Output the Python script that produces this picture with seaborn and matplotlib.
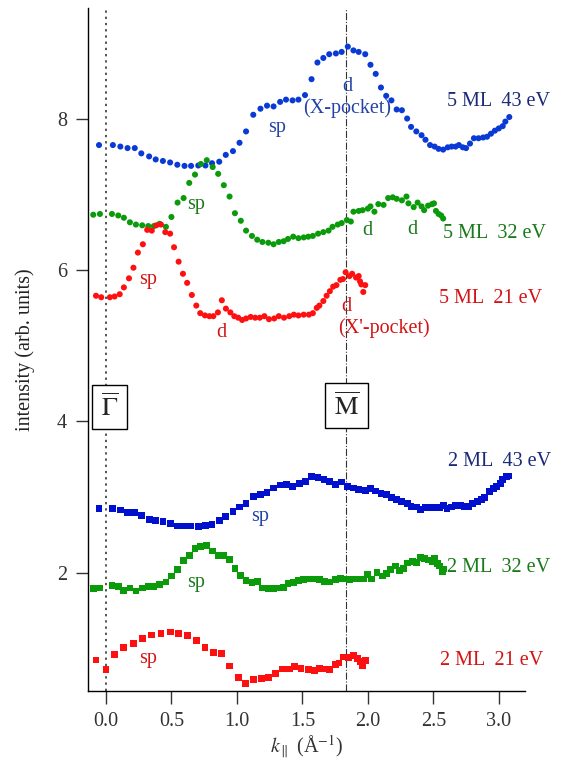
import matplotlib
matplotlib.use("Agg")
import matplotlib.pyplot as plt
import seaborn as sns
import pandas as pd

# ---- 5 ML film, circles ----
x_5ml_43 = [-0.053, 0.053, 0.11, 0.165, 0.22, 0.27, 0.33, 0.38, 0.435, 0.49,
            0.545, 0.60, 0.65, 0.705, 0.76, 0.81, 0.865, 0.915, 0.97, 1.02,
            1.07, 1.125, 1.18, 1.23, 1.28, 1.33, 1.375, 1.425, 1.47, 1.52,
            1.57, 1.615, 1.66, 1.705, 1.756, 1.80, 1.847, 1.89, 1.93, 1.98,
            2.02, 2.06, 2.10, 2.14, 2.18, 2.22, 2.26, 2.30, 2.33, 2.37,
            2.41, 2.44, 2.475, 2.51, 2.54, 2.575, 2.61, 2.64, 2.67, 2.695,
            2.725, 2.75, 2.78, 2.81, 2.845, 2.88, 2.91, 2.94, 2.97, 3.00,
            3.03, 3.05, 3.08]
y_5ml_43 = [7.65, 7.65, 7.63, 7.61, 7.61, 7.54, 7.50, 7.46, 7.44, 7.42,
            7.39, 7.375, 7.375, 7.38, 7.38, 7.41, 7.43, 7.52, 7.57, 7.68,
            7.83, 8.05, 8.13, 8.17, 8.16, 8.22, 8.25, 8.24, 8.25, 8.31,
            8.52, 8.74, 8.80, 8.85, 8.86, 8.88, 8.95, 8.90, 8.88, 8.85,
            8.71, 8.59, 8.41, 8.30, 8.24, 8.12, 8.11, 8.00, 7.89, 7.83,
            7.78, 7.72, 7.65, 7.63, 7.60, 7.59, 7.62, 7.63, 7.63, 7.65,
            7.62, 7.61, 7.67, 7.74, 7.74, 7.75, 7.76, 7.80, 7.84, 7.87,
            7.90, 7.96, 8.02]

x_5ml_32 = [-0.097, -0.046, 0.046, 0.094, 0.137, 0.183, 0.229, 0.277, 0.323, 0.366,
            0.41, 0.458, 0.50, 0.547, 0.593, 0.636, 0.68, 0.725, 0.77, 0.815,
            0.857, 0.90, 0.944, 0.985, 1.03, 1.07, 1.115, 1.155, 1.195, 1.24,
            1.28, 1.32, 1.357, 1.39, 1.43, 1.47, 1.51, 1.545, 1.58, 1.62,
            1.66, 1.70, 1.73, 1.77, 1.80, 1.84, 1.87, 1.89, 1.93, 1.96,
            2.00, 2.02, 2.05, 2.08, 2.12, 2.155, 2.19, 2.22, 2.26, 2.295,
            2.31, 2.35, 2.38, 2.41, 2.43, 2.46, 2.49, 2.505, 2.52, 2.54,
            2.56, 2.575]
y_5ml_32 = [6.73, 6.74, 6.74, 6.72, 6.69, 6.63, 6.60, 6.59, 6.58, 6.58,
            6.61, 6.57, 6.70, 6.89, 6.95, 7.15, 7.26, 7.40, 7.45, 7.36,
            7.27, 7.12, 6.97, 6.75, 6.65, 6.52, 6.45, 6.40, 6.37, 6.36,
            6.34, 6.37, 6.38, 6.41, 6.44, 6.42, 6.43, 6.44, 6.45, 6.48,
            6.50, 6.52, 6.57, 6.60, 6.62, 6.66, 6.64, 6.77, 6.78, 6.79,
            6.81, 6.84, 6.77, 6.87, 6.86, 6.95, 6.96, 6.94, 6.92, 6.97,
            6.88, 6.83, 6.89, 6.84, 6.79, 6.85, 6.87, 6.88, 6.78, 6.74,
            6.72, 6.68]

x_5ml_21 = [-0.076, -0.036, 0.03, 0.066, 0.105, 0.137, 0.176, 0.21, 0.244, 0.282,
            0.315, 0.35, 0.384, 0.42, 0.453, 0.49, 0.52, 0.555, 0.588, 0.62,
            0.656, 0.69, 0.72, 0.756, 0.79, 0.82, 0.855, 0.885, 0.916, 0.95,
            0.98, 1.01, 1.04, 1.07, 1.105, 1.14, 1.175, 1.21, 1.245, 1.285,
            1.32, 1.36, 1.40, 1.435, 1.47, 1.51, 1.55, 1.58, 1.61, 1.63,
            1.66, 1.685, 1.71, 1.735, 1.76, 1.79, 1.81, 1.83, 1.86, 1.88,
            1.91, 1.93, 1.94, 1.95, 1.965, 1.98]
y_5ml_21 = [5.66, 5.64, 5.64, 5.65, 5.68, 5.77, 5.89, 6.03, 6.23, 6.34,
            6.53, 6.52, 6.59, 6.60, 6.50, 6.48, 6.30, 6.11, 5.95, 5.83,
            5.67, 5.53, 5.43, 5.40, 5.39, 5.39, 5.44, 5.60, 5.49, 5.44,
            5.39, 5.37, 5.34, 5.36, 5.38, 5.37, 5.37, 5.39, 5.35, 5.36,
            5.39, 5.37, 5.39, 5.41, 5.40, 5.41, 5.41, 5.43, 5.50, 5.53,
            5.59, 5.66, 5.72, 5.78, 5.80, 5.87, 5.88, 5.97, 5.92, 5.95,
            5.90, 5.92, 5.85, 5.81, 5.71, 5.80]

# ---- 2 ML film, squares ----
x_2ml_43 = [-0.053, 0.053, 0.11, 0.165, 0.22, 0.27, 0.33, 0.38, 0.435, 0.49,
            0.545, 0.60, 0.65, 0.705, 0.76, 0.81, 0.865, 0.915, 0.97, 1.02,
            1.07, 1.125, 1.18, 1.23, 1.28, 1.33, 1.38, 1.425, 1.475, 1.525,
            1.57, 1.62, 1.665, 1.71, 1.756, 1.80, 1.847, 1.89, 1.93, 1.98,
            2.02, 2.06, 2.10, 2.14, 2.18, 2.22, 2.26, 2.30, 2.33, 2.37,
            2.40, 2.44, 2.475, 2.51, 2.55, 2.575, 2.605, 2.64, 2.67, 2.705,
            2.74, 2.77, 2.80, 2.835, 2.87, 2.89, 2.93, 2.96, 2.98, 3.01,
            3.03, 3.06, 3.075]
y_2ml_43 = [2.85, 2.85, 2.83, 2.80, 2.80, 2.76, 2.71, 2.69, 2.68, 2.65,
            2.62, 2.62, 2.62, 2.61, 2.63, 2.64, 2.69, 2.74, 2.81, 2.87,
            2.92, 3.01, 3.03, 3.06, 3.12, 3.16, 3.17, 3.14, 3.18, 3.21,
            3.27, 3.26, 3.23, 3.21, 3.17, 3.20, 3.14, 3.12, 3.10, 3.09,
            3.11, 3.08, 3.05, 3.04, 3.00, 2.97, 2.94, 2.92, 2.88, 2.87,
            2.84, 2.86, 2.86, 2.86, 2.86, 2.89, 2.85, 2.87, 2.89, 2.89,
            2.88, 2.88, 2.92, 2.94, 2.97, 3.00, 3.07, 3.11, 3.14, 3.18,
            3.23, 3.27, 3.28]

x_2ml_32 = [-0.097, -0.046, 0.046, 0.094, 0.137, 0.183, 0.229, 0.277, 0.323, 0.366,
            0.41, 0.458, 0.50, 0.547, 0.593, 0.636, 0.68, 0.725, 0.77, 0.815,
            0.857, 0.90, 0.944, 0.985, 1.03, 1.07, 1.115, 1.155, 1.195, 1.24,
            1.28, 1.32, 1.357, 1.39, 1.435, 1.47, 1.51, 1.56, 1.595, 1.63,
            1.67, 1.71, 1.75, 1.79, 1.825, 1.86, 1.90, 1.94, 1.97, 2.00,
            2.03, 2.07, 2.11, 2.14, 2.17, 2.21, 2.24, 2.27, 2.30, 2.34,
            2.37, 2.40, 2.43, 2.46, 2.49, 2.51, 2.53, 2.55, 2.57, 2.58]
y_2ml_32 = [1.79, 1.80, 1.83, 1.82, 1.77, 1.80, 1.76, 1.80, 1.82, 1.82,
            1.85, 1.88, 1.96, 2.04, 2.16, 2.23, 2.32, 2.35, 2.36, 2.29,
            2.23, 2.23, 2.18, 2.06, 1.97, 1.90, 1.87, 1.89, 1.80, 1.79,
            1.79, 1.80, 1.81, 1.86, 1.87, 1.90, 1.91, 1.92, 1.92, 1.91,
            1.89, 1.88, 1.91, 1.93, 1.92, 1.91, 1.92, 1.92, 1.92, 1.98,
            1.92, 2.00, 1.96, 1.99, 2.04, 2.09, 2.03, 2.06, 2.13, 2.15,
            2.14, 2.20, 2.19, 2.17, 2.15, 2.19, 2.12, 2.09, 2.02, 2.05]

x_2ml_21 = [-0.076, 0.0, 0.066, 0.137, 0.21, 0.28, 0.35, 0.42, 0.49, 0.555,
            0.62, 0.69, 0.756, 0.82, 0.885, 0.946, 1.01, 1.066, 1.125, 1.185,
            1.24, 1.295, 1.35, 1.40, 1.44, 1.49, 1.545, 1.59, 1.63, 1.68,
            1.71, 1.75, 1.78, 1.81, 1.85, 1.89, 1.92, 1.94, 1.96, 1.98]
y_2ml_21 = [0.85, 0.72, 0.92, 1.01, 1.07, 1.13, 1.18, 1.20, 1.22, 1.20,
            1.17, 1.11, 1.01, 0.95, 0.94, 0.77, 0.62, 0.54, 0.59, 0.61,
            0.62, 0.67, 0.73, 0.73, 0.76, 0.74, 0.72, 0.71, 0.74, 0.73,
            0.72, 0.79, 0.81, 0.89, 0.88, 0.91, 0.87, 0.83, 0.77, 0.84]

series_labels = ["5 ML  43 eV", "5 ML  32 eV", "5 ML  21 eV",
                 "2 ML  43 eV", "2 ML  32 eV", "2 ML  21 eV"]
x_ticks = [0.0, 0.5, 1.0, 1.5, 2.0, 2.5, 3.0]
x_tick_labels = ["0.0", "0.5", "1.0", "1.5", "2.0", "2.5", "3.0"]
y_ticks = [2, 4, 6, 8]
k_gamma = 0.0
k_m = 1.83

sns.set_style("ticks")
plt.rcParams["font.family"] = ["Liberation Serif", "DejaVu Serif"]
plt.rcParams["mathtext.fontset"] = "stix"

BLUE_C, BLUE_S = "#0a3ad6", "#0010cc"
GREEN = "#0a9a0a"
RED = "#ff1010"
NAVY_T, BLUE_T = "#1b2a78", "#2442a8"
GREEN_T, RED_T = "#1a7a1a", "#d41414"
FS = 14.5

fig = plt.figure(figsize=(5.67, 7.6), dpi=100)
ax = fig.add_axes([88 / 567, 69 / 760, 437 / 567, 683 / 760])

circ = dict(marker="o", s=19, edgecolor="none", linewidth=0, legend=False, ax=ax, zorder=3)
sq = dict(marker="s", s=24, edgecolor="none", linewidth=0, legend=False, ax=ax, zorder=3)

sns.scatterplot(data=pd.DataFrame({"k": x_5ml_43, "I": y_5ml_43}), x="k", y="I", color=BLUE_C, **circ)
sns.scatterplot(data=pd.DataFrame({"k": x_5ml_32, "I": y_5ml_32}), x="k", y="I", color=GREEN, **circ)
sns.scatterplot(data=pd.DataFrame({"k": x_5ml_21, "I": y_5ml_21}), x="k", y="I", color=RED, **circ)
sns.scatterplot(data=pd.DataFrame({"k": x_2ml_43, "I": y_2ml_43}), x="k", y="I", color=BLUE_S, **sq)
sns.scatterplot(data=pd.DataFrame({"k": x_2ml_32, "I": y_2ml_32}), x="k", y="I", color=GREEN, **sq)
sns.scatterplot(data=pd.DataFrame({"k": x_2ml_21, "I": y_2ml_21}), x="k", y="I", color=RED, **sq)

# high-symmetry points
ax.axvline(k_gamma, color="#555555", ls=(0, (1.2, 2.0)), lw=1.4, zorder=1)
ax.axvline(k_m, color="#333333", ls="-.", lw=0.8, zorder=1)
box = dict(boxstyle="square,pad=0.32", fc="white", ec="black", lw=1.0)
ax.text(0.027, 4.19, r"$\overline{\Gamma}$", fontsize=19, ha="center", va="center", bbox=box, zorder=4)
ax.text(1.836, 4.21, r"$\overline{\mathrm{M}}$", fontsize=19, ha="center", va="center", bbox=box, zorder=4)

# curve labels
lbl_pos = [(2.603, 8.225, NAVY_T), (2.573, 6.48, GREEN_T), (2.542, 5.62, RED_T),
           (2.611, 3.47, NAVY_T), (2.603, 2.07, GREEN_T), (2.55, 0.84, RED_T)]
for text, (lx, ly, c) in zip(series_labels, lbl_pos):
    ax.text(lx, ly, text, color=c, fontsize=FS, ha="left", va="center", clip_on=False)

# band feature annotations
notes = [
    ("sp", 1.305, 7.88, BLUE_T),
    ("d", 1.84, 8.42, BLUE_T),
    ("(X-pocket)", 1.84, 8.14, BLUE_T),
    ("sp", 0.69, 6.86, GREEN_T),
    ("d", 1.995, 6.52, GREEN_T),
    ("d", 2.34, 6.53, GREEN_T),
    ("sp", 0.318, 5.87, RED_T),
    ("d", 0.88, 5.18, RED_T),
    ("d", 1.837, 5.52, RED_T),
    ("(X'-pocket)", 2.12, 5.235, RED_T),
    ("sp", 1.176, 2.75, BLUE_T),
    ("sp", 0.69, 1.87, GREEN_T),
    ("sp", 0.32, 0.87, RED_T),
]
for t, nx, ny, c in notes:
    ax.text(nx, ny, t, color=c, fontsize=FS, ha="center", va="center", zorder=2)

ax.set_xlim(-0.137, 3.2)
ax.set_ylim(0.44, 9.46)
ax.set_xticks(x_ticks)
ax.set_xticklabels(x_tick_labels)
ax.set_yticks(y_ticks)
sns.despine(ax=ax)
for sp in ("left", "bottom"):
    ax.spines[sp].set_color("black")
    ax.spines[sp].set_linewidth(1.0)
ax.tick_params(direction="out", length=9, width=1.0, color="#333333",
               labelcolor="#333333", labelsize=FS, pad=6)
ax.set_xlabel(r"$k_{\parallel}$ (Å$^{-1}$)", fontsize=FS, color="#333333", labelpad=2)
ax.set_ylabel("intensity (arb. units)", fontsize=FS, color="#222222", labelpad=16)

fig.savefig("out.png", dpi=100)
